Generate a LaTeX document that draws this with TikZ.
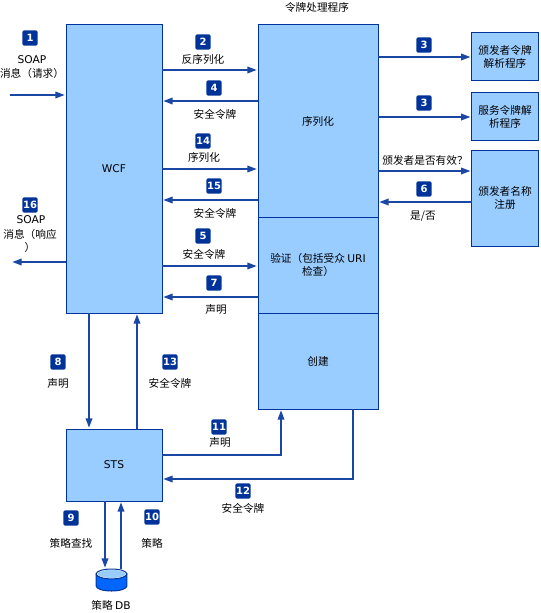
\documentclass[tikz,border=0pt]{standalone}
\usepackage{fontspec}
\setmainfont{Noto Sans CJK SC}
\newfontfamily\latinfont{DejaVu Sans}
\usepackage{xcolor}
\usetikzlibrary{arrows.meta,positioning,calc}
\definecolor{boxblue}{HTML}{99CCFF}
\definecolor{edgeblue}{HTML}{003399}
\definecolor{dbblue}{HTML}{0066FF}

\begin{document}
\begin{tikzpicture}[
    x=0.75pt, y=-0.75pt,
    block/.style={rectangle, draw=edgeblue, fill=boxblue, line width=0.75pt, outer sep=0pt, inner sep=1pt, align=center, font=\fontsize{8}{10}\selectfont},
    badge/.style={rectangle, fill=edgeblue, text=white, rounded corners=1.5pt, minimum size=11.5pt, inner sep=0pt, font=\latinfont\bfseries\fontsize{7.5}{8}\selectfont},
    caption/.style={inner sep=0pt, align=center, font=\fontsize{8}{10}\selectfont},
    arrow/.style={-{Triangle[length=7pt,width=5pt]}, edgeblue!90!white, line width=1.1pt, shorten >=1pt}
]
\useasboundingbox (0,0) rectangle (540,613);

% main blocks
\node[block, minimum width=72pt, minimum height=216pt] (wcf) at (114,169) {{\latinfont WCF}};
\node[block, minimum width=90pt, minimum height=144pt] (serialize) at (318,121) {序列化};
\node[block, minimum width=90pt, minimum height=72pt, below=0pt of serialize] (verify) {验证（包括受众 {\latinfont URI}\\检查）};
\node[block, minimum width=90pt, minimum height=72pt, below=0pt of verify] (create) {创建};
\node[block, minimum width=72pt, minimum height=54pt] (sts) at (114,465) {{\latinfont STS}};
\node[block, minimum width=50pt, minimum height=36pt] (issuer) at (505,57) {颁发者令牌\\解析程序};
\node[block, minimum width=50pt, minimum height=36pt] (service) at (505,117) {服务令牌解\\析程序};
\node[block, minimum width=50pt, minimum height=72pt] (registry) at (505,198) {颁发者名称\\注册};
\node[caption] (title) at (317,7) {令牌处理程序};

% policy database
\node[minimum width=23pt, minimum height=16.5pt, inner sep=0pt, outer sep=0pt] (db) at (111.5,580) {};
\coordinate (dbTop) at ($(db.north)-(0,3.7pt)$);
\coordinate (dbBottom) at ($(db.south)+(0,3.7pt)$);
\draw[edgeblue, fill=dbblue, line width=0.75pt] (dbTop -| db.west) -- (dbBottom -| db.west) arc (180:360:11.5pt and 3.7pt) -- (dbTop -| db.east) -- cycle;
\draw[edgeblue, fill=white, line width=0.75pt] (dbTop) ellipse (11.5pt and 3.7pt);
\fill[boxblue] (dbTop) ellipse (10.5pt and 3pt);

% free ends on the left
\coordinate (inStart) at (10,95);
\coordinate (outEnd) at (11,262);

% step badges
\node[badge] (n1) at (30,38) {1};
\node[badge] (n2) at (203,42) {2};
\node[badge] (n4) at (214,88) {4};
\node[badge] (n14) at (203,141) {14};
\node[badge] (n15) at (214,186) {15};
\node[badge] (n5) at (203,236) {5};
\node[badge] (n7) at (214,283) {7};
\node[badge] (n16) at (30,205) {16};
\node[badge] (n3a) at (424,45) {3};
\node[badge] (n3b) at (424,103) {3};
\node[badge] (n6) at (424,189) {6};
\node[badge] (n8) at (58,362) {8};
\node[badge] (n13) at (170,362) {13};
\node[badge] (n9) at (71,518) {9};
\node[badge] (n10) at (152,517) {10};
\node[badge] (n11) at (219,427) {11};
\node[badge] (n12) at (243,491) {12};

% captions
\node[caption] (l1a) at (32,60) {{\latinfont SOAP}};
\node[caption] (l1b) at (32,73) {消息（请求）};
\node[caption] (l2) at (203,59) {反序列化};
\node[caption] (l4) at (215,114) {安全令牌};
\node[caption] (l14) at (204,157) {序列化};
\node[caption] (l15) at (215,213) {安全令牌};
\node[caption] (l5) at (204,254) {安全令牌};
\node[caption] (l7) at (216,309) {声明};
\node[caption] (l16a) at (31,220) {{\latinfont SOAP}};
\node[caption] (l16b) at (30,234) {消息（响应};
\node[caption] (l16c) at (30,247) {）};
\node[caption] (lvalid) at (425,160) {颁发者是否有效？};
\node[caption] (l6) at (423,216) {是/否};
\node[caption] (l8) at (58,383) {声明};
\node[caption] (l13) at (170,383) {安全令牌};
\node[caption] (l11) at (220,442) {声明};
\node[caption] (l12) at (243,508) {安全令牌};
\node[caption] (l9) at (71,543) {策略查找};
\node[caption] (l10) at (152,543) {策略};
\node[caption] (ldb) at (111,605) {策略 {\latinfont DB}};

% connectors
\draw[arrow] (inStart) -- (wcf.west |- inStart);
\draw[arrow] (wcf.west |- outEnd) -- (outEnd);
\draw[arrow] (wcf.east |- 0,70) -- (serialize.west |- 0,70);
\draw[arrow] (serialize.west |- 0,101) -- (wcf.east |- 0,101);
\draw[arrow] (wcf.east |- 0,169) -- (serialize.west |- 0,169);
\draw[arrow] (serialize.west |- 0,200) -- (wcf.east |- 0,200);
\draw[arrow] (wcf.east |- 0,266) -- (verify.west |- 0,266);
\draw[arrow] (verify.west |- 0,297) -- (wcf.east |- 0,297);
\draw[arrow] (serialize.east |- issuer) -- (issuer.west);
\draw[arrow] (serialize.east |- service) -- (service.west);
\draw[arrow] (serialize.east |- 0,171) -- (registry.west |- 0,171);
\draw[arrow] (registry.west |- 0,202) -- (serialize.east |- 0,202);
\draw[arrow] (wcf.south -| 89,0) -- (sts.north -| 89,0);
\draw[arrow] (sts.north -| 137,0) -- (wcf.south -| 137,0);
\draw[arrow] (sts.east |- 0,455) -| (create.south -| 281,0);
\draw[arrow] (create.south -| 353,0) |- (sts.east |- 0,479);
\draw[arrow] (sts.south -| 105,0) -- (db.north -| 105,0);
\draw[arrow] (db.north -| 121,0) -- (sts.south -| 121,0);
\end{tikzpicture}
\end{document}
